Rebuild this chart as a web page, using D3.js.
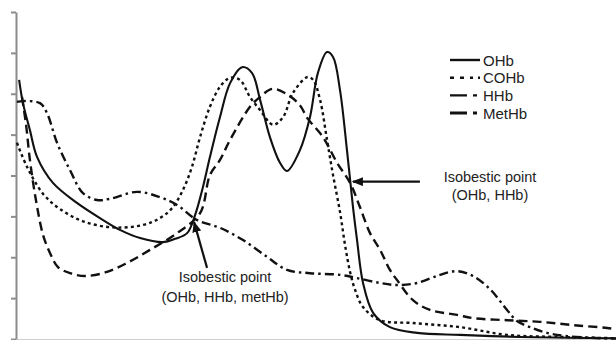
<!DOCTYPE html>
<html><head><meta charset="utf-8">
<script src="https://cdn.jsdelivr.net/npm/d3@7"></script>
<style>
html,body{margin:0;padding:0;background:#fff;}
svg{display:block;}
text{font-family:"Liberation Sans",Arial,sans-serif;}
</style></head><body>
<div id="chart"></div>
<script>
// wavelength (nm), absorbance (a.u.)
const seriesNames = ["OHb", "COHb", "HHb", "MetHb"];
const ohb = [[451.3,6.34],[452.9,5.77],[455.8,5.11],[458.8,4.45],[465.4,3.82],[475.4,3.33],[486.3,2.91],[493.3,2.67],[501.7,2.47],[511.3,2.37],[516.3,2.45],[521.3,2.59],[524.6,3.03],[527.9,3.72],[530.8,4.45],[535,5.43],[539.2,6.26],[544.2,6.65],[548.3,6.51],[551.7,5.85],[555.8,4.94],[560,4.31],[562.9,4.11],[568.3,4.62],[572.5,5.43],[575.8,6.51],[579.6,7.02],[582.1,6.90],[585,6.09],[587.9,4.62],[590.4,3.23],[592.1,2.42],[594.6,1.37],[598.8,0.64],[605.8,0.29],[617.1,0.15],[635,0.10],[660,0.05],[680,0.03],[700,0.02]];
const cohb = [[450.4,4.80],[454.6,4.21],[461.3,3.55],[468.3,3.18],[477.9,2.88],[490.4,2.73],[502.9,2.79],[510,2.96],[515,3.20],[519.6,3.65],[523.3,4.21],[526.7,4.94],[530.8,5.68],[535,6.17],[539.2,6.39],[543.3,6.34],[547.5,5.92],[551.7,5.60],[557.1,5.24],[561.3,5.43],[565.4,6.02],[571.5,6.41],[573.8,6.34],[576.7,5.85],[579.6,4.87],[582.1,4.01],[585,3.11],[587.1,2.30],[589.2,1.64],[591.3,1.20],[594.6,0.78],[601.7,0.46],[615.4,0.39],[635,0.29],[654.6,0.10],[676.7,0.05],[700,0.02]];
const hhb = [[452.5,5.92],[454.2,5.24],[455.8,4.38],[458.3,3.40],[461.3,2.54],[464.2,2.10],[467.5,1.76],[472.5,1.61],[478.75,1.54],[487.9,1.64],[496.25,1.86],[505.8,2.18],[517.1,2.59],[526.7,3.08],[530.8,4.01],[535,4.38],[539.2,4.87],[547.5,5.68],[551.7,5.92],[556.7,6.12],[562.9,5.99],[568.3,5.72],[571.3,5.41],[577.9,4.94],[583.8,4.31],[589.2,3.82],[593.3,3.23],[597.5,2.59],[601.7,2.18],[605.8,1.69],[608.8,1.44],[615.4,0.95],[622.5,0.71],[633.8,0.59],[640.4,0.51],[654.6,0.46],[668.3,0.42],[682.1,0.34],[696.3,0.27],[700,0.24]];
const methb = [[450.4,5.80],[452.9,5.82],[460,5.77],[462.9,5.53],[467.1,4.80],[472.5,4.13],[477.9,3.57],[483.75,3.40],[489.2,3.43],[500.4,3.60],[510,3.47],[517.1,3.28],[525.4,2.91],[535,2.72],[544.6,2.42],[554.6,2.01],[562.9,1.69],[572.5,1.61],[585,1.57],[592.1,1.49],[601.7,1.37],[608.75,1.32],[617.1,1.37],[626.7,1.57],[633.75,1.66],[640.4,1.54],[647.5,1.22],[654.6,0.71],[658.75,0.44],[664.2,0.29],[671.25,0.15],[679.6,0.07],[693.3,0.02],[700,0.01]];
const yTicks = [0,1,2,3,4,5,6,7,8];
const xDomain = [450, 700];
const yDomain = [0, 8];

// annotations: arrow tail -> tip (data units), and label lines
const arrows = [
  {from:[529.6,1.74], to:[524.2,2.86]},
  {from:[618.3,3.85], to:[590.4,3.85]}
];
const notes = [
  {at:[537.1,1.52], text:"Isobestic point"},
  {at:[537.1,1.03], text:"(OHb, HHb, metHb)"},
  {at:[647.5,3.96], text:"Isobestic point"},
  {at:[647.5,3.52], text:"(OHb, HHb)"}
];

const W = 616, H = 340;
const svg = d3.select("#chart").append("svg").attr("width", W).attr("height", H);
const x = d3.scaleLinear().domain(xDomain).range([16, 616]);
const y = d3.scaleLinear().domain(yDomain).range([339, 12]);

// axes
const gx = svg.append("g").attr("transform","translate(0,339.5)")
  .call(d3.axisBottom(x).tickValues([]).tickSizeOuter(0));
gx.select(".domain").attr("stroke","#a0a0a0").attr("stroke-width",1);

const gy = svg.append("g").attr("transform","translate(16,0)")
  .call(d3.axisLeft(y).tickValues(yTicks).tickSize(5).tickSizeOuter(0).tickFormat(""));
gy.select(".domain").attr("stroke","#8c8c8c").attr("stroke-width",2);
gy.selectAll(".tick line").attr("stroke","#8c8c8c").attr("stroke-width",2);

const styles = {
  OHb:   {data: ohb,   dash: null,        w: 2.1},
  COHb:  {data: cohb,  dash: "3,3.2",     w: 2.4},
  HHb:   {data: hhb,   dash: "9,5",       w: 2.4},
  MetHb: {data: methb, dash: "9,4,2.5,4", w: 2.4}
};

const line = d3.line().x(d => x(d[0])).y(d => y(d[1])).curve(d3.curveCatmullRom.alpha(0.5));

seriesNames.forEach(n => {
  const s = styles[n];
  svg.append("path").datum(s.data)
    .attr("d", line).attr("fill","none").attr("stroke","#111")
    .attr("stroke-width", s.w).attr("stroke-dasharray", s.dash)
    .attr("stroke-linejoin","round");
});

// arrows
const defs = svg.append("defs");
defs.append("marker").attr("id","ah").attr("markerUnits","userSpaceOnUse")
  .attr("markerWidth",11).attr("markerHeight",9).attr("refX",10).attr("refY",4.5)
  .attr("orient","auto")
  .append("path").attr("d","M0,0 L11,4.5 L0,9 z").attr("fill","#111");
arrows.forEach(a => {
  svg.append("line")
    .attr("x1", x(a.from[0])).attr("y1", y(a.from[1]))
    .attr("x2", x(a.to[0])).attr("y2", y(a.to[1]))
    .attr("stroke","#111").attr("stroke-width",2.2).attr("marker-end","url(#ah)");
});
notes.forEach(t => {
  svg.append("text").attr("x", x(t.at[0])).attr("y", y(t.at[1]))
    .attr("text-anchor","middle").attr("dominant-baseline","central")
    .attr("font-size", 14.5).attr("fill","#222").text(t.text);
});

// legend
const legendDash = {OHb: null, COHb: "4,6,4,6,3,5,2,10", HHb: "17,6,4,20", MetHb: "17,6,4,20"};
const lg = svg.append("g").attr("transform","translate(450,60)");
seriesNames.forEach((n, i) => {
  const row = lg.append("g").attr("transform", `translate(0,${i*17.7})`);
  row.append("line").attr("x1",0).attr("x2",30).attr("y1",0).attr("y2",0)
    .attr("stroke","#111").attr("stroke-width", n === "MetHb" ? 3 : 2.4)
    .attr("stroke-dasharray", legendDash[n]);
  row.append("text").attr("x",33).attr("y",0).attr("dominant-baseline","central")
    .attr("font-size",15).attr("fill","#222").text(n);
});
</script>
</body></html>
